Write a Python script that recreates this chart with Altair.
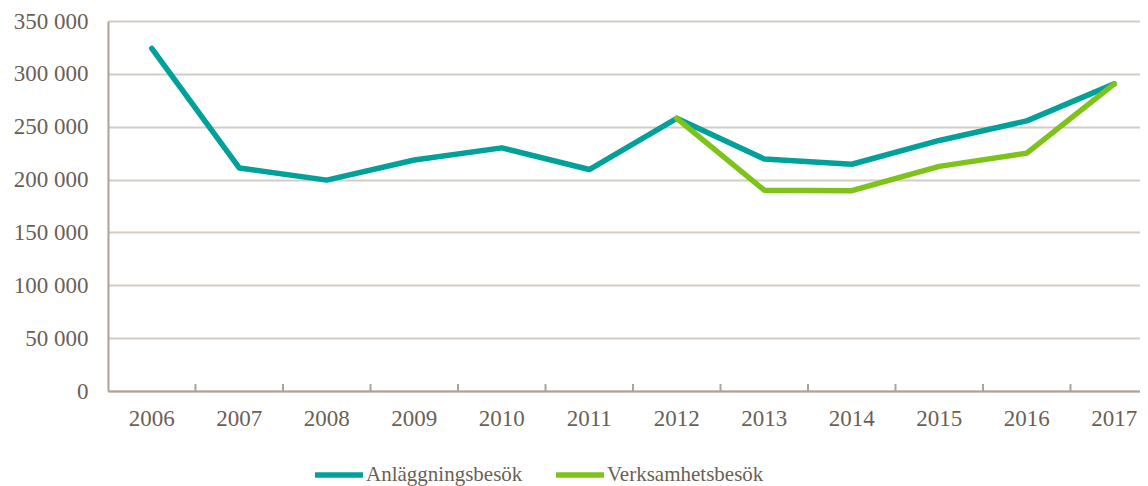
import altair as alt
import pandas as pd

years = [str(y) for y in range(2006, 2018)]
anl_values = [324000, 211000, 199500, 218500, 230000, 209500, 258000, 219500, 214500, 237000, 255500, 290500]
verk_years = ["2012", "2013", "2014", "2015", "2016", "2017"]
verk_values = [258000, 190000, 189500, 212500, 225000, 290500]
tick_years = years[1:]
y_ticks = [0, 50000, 100000, 150000, 200000, 250000, 300000, 350000]
series_names = ["Anläggningsbesök", "Verksamhetsbesök"]
series_colors = ["#00a19a", "#7dc31a"]

rows = [{"year": y, "value": v, "series": series_names[0]} for y, v in zip(years, anl_values)]
rows += [{"year": y, "value": v, "series": series_names[1]} for y, v in zip(verk_years, verk_values)]
df = pd.DataFrame(rows)
ticks_df = pd.DataFrame({"year": tick_years})

FONT = "Liberation Serif"
TXT = "#6b5f55"
GRID = "#d3cbc4"
DOMAIN = "#aca298"

xscale = alt.Scale(type="band", domain=years, paddingInner=0, paddingOuter=0)
xaxis = alt.Axis(title=None, ticks=False, labelAngle=0, labelAlign="center", bandPosition=0.5,
                 labelFont=FONT, labelFontSize=23, labelColor=TXT, labelPadding=16,
                 domainColor=DOMAIN, domainWidth=2, grid=False)

lines = alt.Chart(df).mark_line(strokeWidth=5.5, strokeCap="round", strokeJoin="round").encode(
    x=alt.X("year:O", scale=xscale, bandPosition=0.5, axis=xaxis),
    y=alt.Y("value:Q", scale=alt.Scale(domain=[0, 350000], nice=False),
            axis=alt.Axis(title=None, values=y_ticks, ticks=False, labelFont=FONT, labelFontSize=23,
                          labelColor=TXT, labelPadding=20, domainColor=DOMAIN, domainWidth=2,
                          gridColor=GRID, gridWidth=2,
                          labelExpr="datum.value >= 1000 ? floor(datum.value / 1000) + ' 000' : '0'")),
    color=alt.Color("series:N", scale=alt.Scale(domain=series_names, range=series_colors),
                    legend=alt.Legend(title=None, orient="none", legendX=204, legendY=427,
                                      direction="horizontal", symbolType="stroke", symbolStrokeWidth=5.5,
                                      symbolSize=2300, labelFont=FONT, labelFontSize=21, labelColor=TXT,
                                      columnPadding=22, labelOffset=0)),
    order=alt.Order("series:N"),
)

tick_rules = alt.Chart(ticks_df).mark_rule(color=DOMAIN, strokeWidth=2).encode(
    x=alt.X("year:O", scale=xscale, bandPosition=0, axis=xaxis),
    y=alt.value(363),
    y2=alt.value(370),
)

chart = alt.layer(lines, tick_rules).properties(
    width=1050, height=370,
    autosize=alt.AutoSizeParams(type="none"),
    padding={"left": 100, "top": 13, "right": -18, "bottom": 95},
).configure_view(stroke=None)

chart.save("out.html", embed_options={"renderer": "svg", "actions": False})
